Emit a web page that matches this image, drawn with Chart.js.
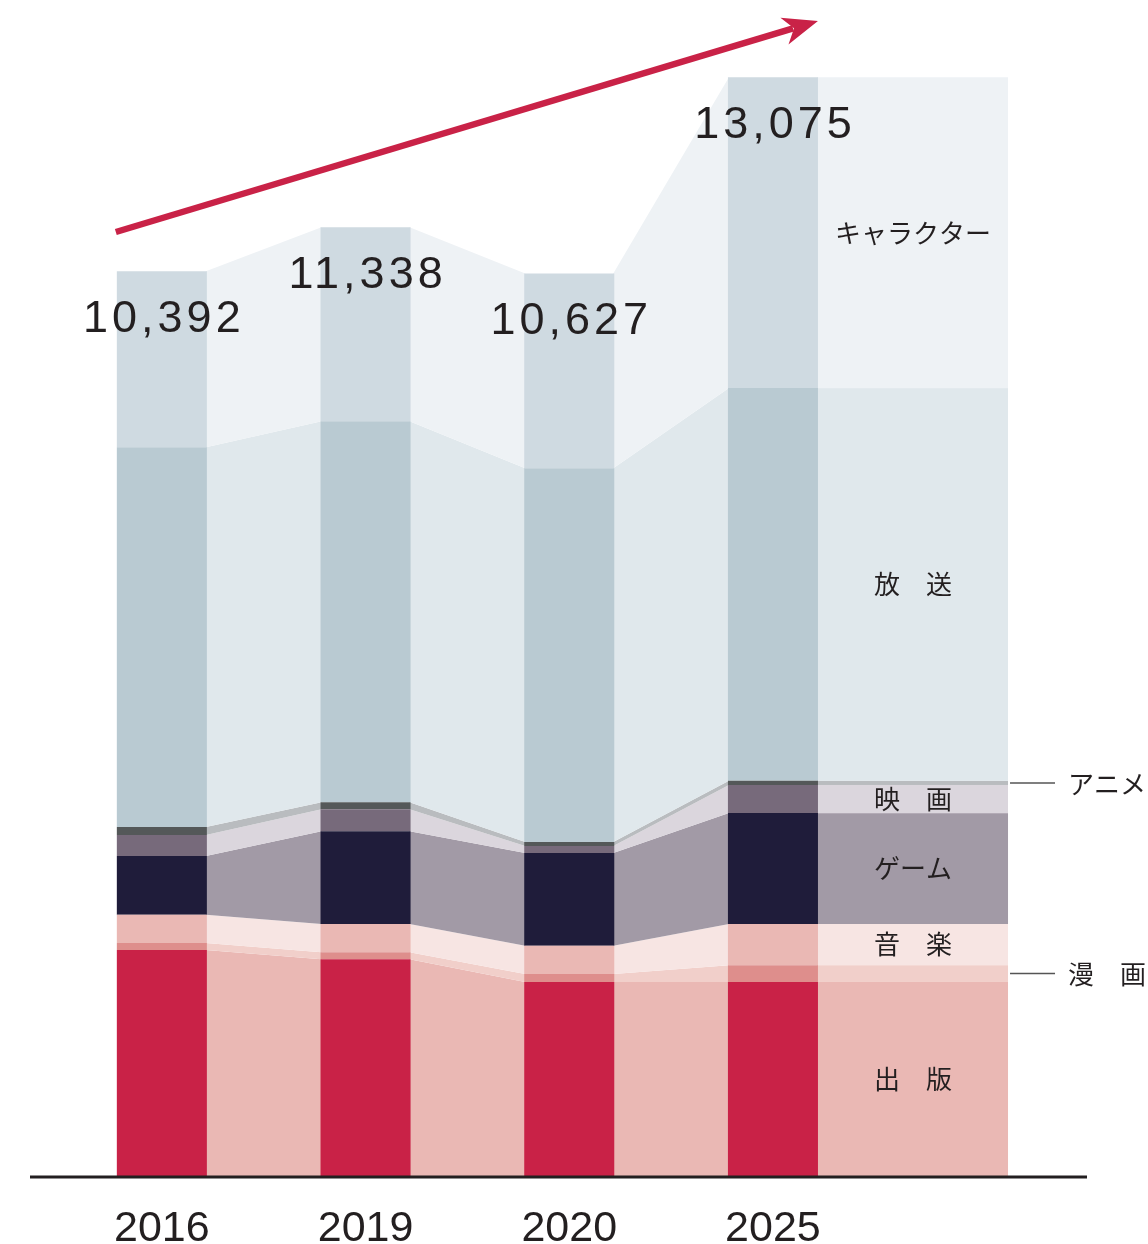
<!DOCTYPE html>
<html>
<head>
<meta charset="utf-8">
<script src="https://cdn.jsdelivr.net/npm/chart.js@4/dist/chart.umd.min.js"></script>
<style>
  html, body { margin: 0; padding: 0; background: #fff; }
  #wrap { width: 1148px; height: 1244px; position: relative; }
</style>
</head>
<body>
<div id="wrap"><canvas id="contentChart"></canvas></div>
<script>
// years and totals (億円)
const years = ['2016', '2019', '2020', '2025'];
const totals = [10392, 11338, 10627, 13075];

// segment values, bottom to top
const publishing = [2690, 2580, 2310, 2310];
const manga      = [85, 85, 95, 200];
const music      = [335, 335, 335, 490];
const game       = [700, 1105, 1105, 1320];
const movie      = [250, 260, 85, 335];
const anime      = [95, 85, 45, 50];
const broadcast  = [4520, 4535, 4450, 4675];
const character  = [2095, 2310, 2320, 3700];

const segmentNames = ['出　版', '漫　画', '音　楽', 'ゲーム', '映　画', 'アニメ', '放　送', 'キャラクター'];
const outsideNames = ['漫　画', 'アニメ'];

const barColors  = ['#C92247', '#DE8E8C', '#EAB8B4', '#1F1C3A', '#776A7B', '#545859', '#B9CAD2', '#CFDAE1'];
const bandColors = ['#EAB8B4', '#F1CFCA', '#F7E5E3', '#A29AA6', '#DBD6DD', '#B9BCBF', '#E0E8EC', '#EEF2F5'];

const tailEnd = 4.154;   // right end of the label band, in category units
const textColor = '#231F20';

const series = [publishing, manga, music, game, movie, anime, broadcast, character];

const bandPlugin = {
    id: 'bands',
    beforeDatasetsDraw(chart) {
        const ctx = chart.ctx;
        const endX = chart.scales.x.getPixelForValue(tailEnd);
        ctx.save();
        chart.data.datasets.forEach((ds, i) => {
            const bars = chart.getDatasetMeta(i).data;
            ctx.fillStyle = bandColors[i];
            for (let j = 0; j < bars.length - 1; j++) {
                const a = bars[j], b = bars[j + 1];
                const ax = a.x + a.width / 2, bx = b.x - b.width / 2;
                ctx.beginPath();
                ctx.moveTo(ax - 1, a.y);
                ctx.lineTo(bx + 1, b.y);
                ctx.lineTo(bx + 1, b.base);
                ctx.lineTo(ax - 1, a.base);
                ctx.closePath();
                ctx.fill();
            }
            const last = bars[bars.length - 1];
            const lx = last.x + last.width / 2;
            ctx.fillRect(lx - 1, last.y, endX - lx + 1, last.base - last.y);
        });
        ctx.restore();
    },
    afterDatasetsDraw(chart) {
        const ctx = chart.ctx;
        const area = chart.chartArea;
        const endX = chart.scales.x.getPixelForValue(tailEnd);
        ctx.save();

        // baseline
        ctx.strokeStyle = textColor;
        ctx.lineWidth = 3;
        ctx.beginPath();
        ctx.moveTo(area.left - 30, area.bottom + 1);
        ctx.lineTo(area.right + 8.5, area.bottom + 1);
        ctx.stroke();

        // totals and years
        const topMeta = chart.getDatasetMeta(chart.data.datasets.length - 1).data;
        ctx.fillStyle = textColor;
        ctx.textAlign = 'center';
        ctx.textBaseline = 'middle';
        topMeta.forEach((bar, j) => {
            ctx.font = '45px "Liberation Sans", Arial, sans-serif';
            ctx.letterSpacing = '4px';
            ctx.fillText(totals[j].toLocaleString('en-US'), bar.x + 2, bar.y + 48);
            ctx.letterSpacing = '0px';
            ctx.font = '43px "Liberation Sans", Arial, sans-serif';
            ctx.fillText(years[j], bar.x, area.bottom + 53);
        });

        // segment labels in the tail band
        ctx.font = '26px "Noto Sans CJK JP", sans-serif';
        chart.data.datasets.forEach((ds, i) => {
            const bars = chart.getDatasetMeta(i).data;
            const last = bars[bars.length - 1];
            const lx = last.x + last.width / 2;
            const cy = (last.y + last.base) / 2;
            const name = segmentNames[i];
            ctx.fillStyle = textColor;
            if (outsideNames.includes(name)) {
                ctx.strokeStyle = '#555';
                ctx.lineWidth = 1.5;
                ctx.beginPath();
                ctx.moveTo(endX + 2, cy);
                ctx.lineTo(endX + 47, cy);
                ctx.stroke();
                ctx.textAlign = 'left';
                ctx.fillText(name, endX + 60, cy + 1);
            } else {
                ctx.textAlign = 'center';
                ctx.fillText(name, (lx + endX) / 2, cy);
            }
        });

        // growth arrow
        const first = chart.getDatasetMeta(0).data[0];
        const last = topMeta[topMeta.length - 1];
        const x0 = first.x - first.width / 2 - 1, y0 = area.top + 232;
        const x1 = last.x + last.width / 2, y1 = area.top + 21;
        const len = Math.hypot(x1 - x0, y1 - y0);
        const ux = (x1 - x0) / len, uy = (y1 - y0) / len;
        const nx = -uy, ny = ux;
        ctx.strokeStyle = '#C92247';
        ctx.fillStyle = '#C92247';
        ctx.lineWidth = 6.5;
        ctx.beginPath();
        ctx.moveTo(x0, y0);
        ctx.lineTo(x1 - ux * 26, y1 - uy * 26);
        ctx.stroke();
        ctx.beginPath();
        ctx.moveTo(x1, y1);
        ctx.lineTo(x1 - ux * 35 - nx * 14, y1 - uy * 35 - ny * 14);
        ctx.lineTo(x1 - ux * 25, y1 - uy * 25);
        ctx.lineTo(x1 - ux * 35 + nx * 14, y1 - uy * 35 + ny * 14);
        ctx.closePath();
        ctx.fill();

        ctx.restore();
    }
};

const datasets = series.map((values, i) => ({
    label: segmentNames[i],
    data: values,
    backgroundColor: barColors[i],
    borderWidth: 0,
    stack: 'total',
    categoryPercentage: 1,
    barPercentage: 0.442
}));

new Chart(document.getElementById('contentChart'), {
    type: 'bar',
    data: { labels: [...years, ''], datasets: datasets },
    options: {
        responsive: true,
        maintainAspectRatio: false,
        animation: false,
        layout: { padding: { left: 60, right: 69.5, top: 0, bottom: 68 } },
        plugins: { legend: { display: false }, tooltip: { enabled: false } },
        scales: {
            x: { display: false, stacked: true, offset: true },
            y: { display: false, stacked: true, min: 0, max: 14000 }
        }
    },
    plugins: [bandPlugin]
});
</script>
</body>
</html>
